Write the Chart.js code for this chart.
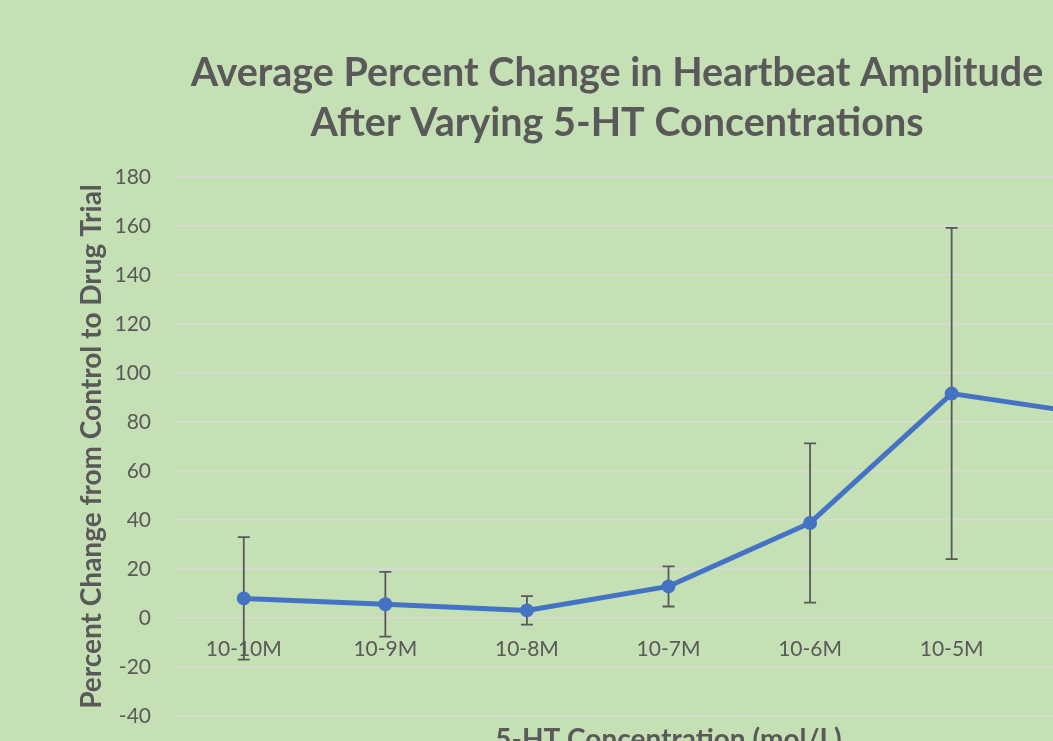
<!DOCTYPE html>
<html>
<head>
<meta charset="utf-8">
<script src="https://cdn.jsdelivr.net/npm/chart.js@4.4.1/dist/chart.umd.min.js"></script>
<style>
  html, body { margin: 0; padding: 0; background: #C5E0B4; overflow: hidden; width: 1053px; height: 741px; }
  #wrap { position: absolute; left: 0; top: 0; width: 1233px; height: 790px; }
  canvas { display: block; }
</style>
</head>
<body>
<div id="wrap"><canvas id="c" width="1233" height="790"></canvas></div>
<script>
// ---- data ----
const categories = ['10-10M', '10-9M', '10-8M', '10-7M', '10-6M', '10-5M', '10-4M'];
const meanChange = [8.0, 5.6, 3.1, 12.9, 38.8, 91.6, 83.0];
const errorSize = [25.0, 13.2, 5.8, 8.2, 32.5, 67.6, 20.0];
const yTicks = [-40, -20, 0, 20, 40, 60, 80, 100, 120, 140, 160, 180];
const titleLines = ['Average Percent Change in Heartbeat Amplitude', 'After Varying 5-HT Concentrations'];
const yTitle = 'Percent Change from Control to Drug Trial';
const xTitle = '5-HT Concentration (mol/L)';

const TEXT = '#595959';
const FONT = 'Lato';

const errorBars = {
  id: 'errorBars',
  beforeDatasetsDraw(chart) {
    const ctx = chart.ctx;
    const xs = chart.scales.x, ys = chart.scales.y;
    ctx.save();
    ctx.strokeStyle = '#595959';
    ctx.lineWidth = 1.8;
    const cap = 6;
    meanChange.forEach((v, i) => {
      const x = xs.getPixelForValue(i);
      const yTop = ys.getPixelForValue(v + errorSize[i]);
      const yBot = ys.getPixelForValue(v - errorSize[i]);
      ctx.beginPath();
      ctx.moveTo(x, yTop); ctx.lineTo(x, yBot);
      ctx.moveTo(x - cap, yTop); ctx.lineTo(x + cap, yTop);
      ctx.moveTo(x - cap, yBot); ctx.lineTo(x + cap, yBot);
      ctx.stroke();
    });
    ctx.restore();
  }
};

new Chart(document.getElementById('c'), {
  type: 'line',
  data: {
    labels: categories,
    datasets: [{
      data: meanChange,
      borderColor: '#4472C4',
      backgroundColor: '#4472C4',
      borderWidth: 5,
      pointRadius: 6,
      pointBorderWidth: 2,
      pointBorderColor: '#4472C4',
      pointBackgroundColor: '#4472C4',
      tension: 0,
      xAxisID: 'x'
    }]
  },
  options: {
    responsive: false,
    animation: false,
    events: [],
    layout: { padding: { left: 70, right: 69, top: 0, bottom: 0 } },
    plugins: {
      legend: { display: false },
      tooltip: { enabled: false },
      title: {
        display: true,
        text: titleLines,
        color: TEXT,
        font: { family: FONT, size: 39.5, weight: 'bold', lineHeight: 50 / 39.5 },
        padding: { top: 48, bottom: 29 }
      }
    },
    scales: {
      x: {
        type: 'category',
        position: { y: 0 },
        offset: true,
        grid: { display: false, drawTicks: false },
        border: { display: false },
        ticks: { color: TEXT, font: { family: FONT, size: 21 }, padding: 19, maxRotation: 0, autoSkip: false }
      },
      x2: {
        type: 'category',
        position: 'bottom',
        offset: true,
        labels: categories,
        grid: { display: false, drawTicks: false },
        border: { display: false },
        ticks: { display: false },
        title: { display: true, text: xTitle, color: TEXT, font: { family: FONT, size: 28, weight: 'bold' }, padding: { top: 33, bottom: 33 } },
        afterFit(scale) { scale.height = 74; }
      },
      y: {
        min: -40,
        max: 180,
        afterBuildTicks(scale) { scale.ticks = yTicks.map(v => ({ value: v })); },
        grid: { color: '#D9D9D9', lineWidth: 1.5, drawTicks: false },
        border: { display: false },
        ticks: { color: TEXT, font: { family: FONT, size: 21 }, padding: 22 },
        title: { display: true, text: yTitle, color: TEXT, font: { family: FONT, size: 28, weight: 'bold' }, padding: { top: 5, bottom: 5 } },
        afterFit(scale) { scale.width = 103; }
      }
    }
  },
  plugins: [errorBars]
});
</script>
</body>
</html>
